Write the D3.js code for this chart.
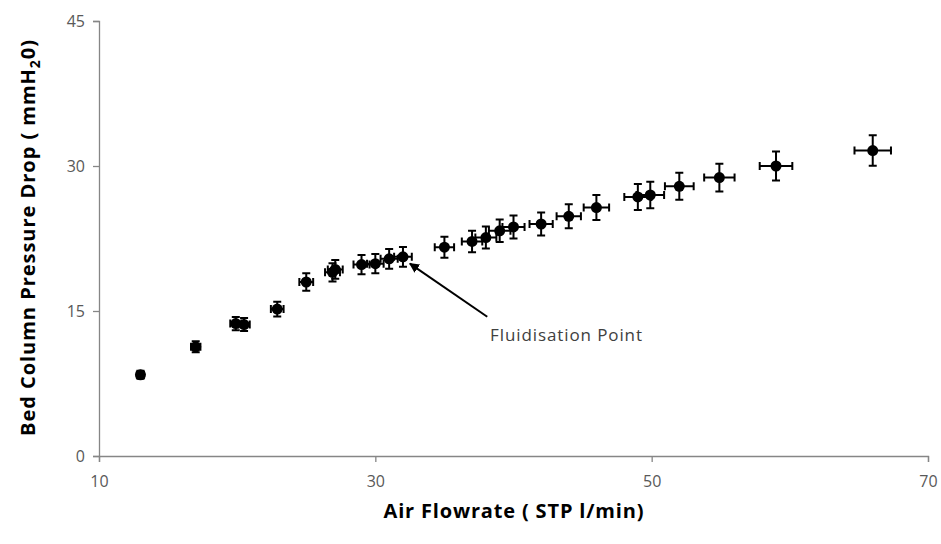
<!DOCTYPE html>
<html>
<head>
<meta charset="utf-8">
<script src="https://cdn.jsdelivr.net/npm/d3@7"></script>
<style>
  body { margin: 0; background: #fff; }
  svg { display: block; font-family: "Open Sans", Lato, sans-serif; }
</style>
</head>
<body>
<svg id="chart"></svg>
<script>
// air flowrate (STP l/min)
const flowrate = [13, 17, 19.9, 20.5, 22.9, 25, 26.9, 27.1, 29, 30, 31, 32, 35, 37, 38, 39, 40, 42, 44, 46, 49, 49.9, 52, 54.9, 59, 66];
// bed column pressure drop (mmH2O)
const pressure = [8.4, 11.3, 13.7, 13.6, 15.2, 18.0, 19.0, 19.3, 19.8, 19.9, 20.4, 20.6, 21.6, 22.2, 22.6, 23.3, 23.7, 24.0, 24.8, 25.7, 26.8, 27.0, 27.9, 28.8, 30.0, 31.6];
// error bars
const flowErr = [0.26, 0.34, 0.40, 0.41, 0.46, 0.50, 0.54, 0.54, 0.58, 0.60, 0.62, 0.64, 0.70, 0.74, 0.76, 0.78, 0.80, 0.84, 0.88, 0.92, 0.98, 1.00, 1.04, 1.10, 1.18, 1.32];
const pressErr = [0.42, 0.57, 0.69, 0.68, 0.76, 0.90, 0.95, 0.97, 0.99, 1.00, 1.02, 1.03, 1.08, 1.11, 1.13, 1.17, 1.19, 1.20, 1.24, 1.29, 1.34, 1.36, 1.40, 1.44, 1.50, 1.58];

const xTicks = [10, 30, 50, 70];
const yTicks = [0, 15, 30, 45];

// annotation: text anchor, arrow tail and tip (data units)
const noteText = 'Fluidisation Point';
const notePos = [38.3, 12.4];
const arrowFrom = [38.1, 14.4];
const arrowTo = [32.5, 19.9];

const width = 941;
const height = 544;
const margin = { top: 21, right: 13, bottom: 88, left: 99 };

const svg = d3.select('#chart').attr('width', width).attr('height', height);

const x = d3.scaleLinear().domain([10, 70]).range([margin.left, width - margin.right]);
const y = d3.scaleLinear().domain([0, 45]).range([height - margin.bottom, margin.top]);

const axisColor = '#868686';

const xAxis = svg.append('g')
  .attr('transform', `translate(0,${y(0)})`)
  .call(d3.axisBottom(x).tickValues(xTicks).tickSize(6).tickPadding(14));
const yAxis = svg.append('g')
  .attr('transform', `translate(${x(10)},0)`)
  .call(d3.axisLeft(y).tickValues(yTicks).tickSize(6).tickPadding(8));

[xAxis, yAxis].forEach(g => {
  g.selectAll('path, line').attr('stroke', axisColor).attr('stroke-width', 1.3);
  g.selectAll('text')
    .attr('fill', '#595959')
    .style('font-size', '16px')
    .style('font-family', '"Open Sans", sans-serif');
});

const data = flowrate.map((d, i) => ({
  x: d, y: pressure[i], ex: flowErr[i], ey: pressErr[i],
}));

const cap = 4;
const bars = svg.append('g').attr('stroke', '#000').attr('stroke-width', 2);

bars.selectAll('.hbar')
  .data(data)
  .enter()
  .append('path')
  .attr('fill', 'none')
  .attr('d', d => {
    const x0 = x(d.x - d.ex);
    const x1 = x(d.x + d.ex);
    const cy = y(d.y);
    return `M${x0},${cy}H${x1}M${x0},${cy - cap}V${cy + cap}M${x1},${cy - cap}V${cy + cap}`;
  });

bars.selectAll('.vbar')
  .data(data)
  .enter()
  .append('path')
  .attr('fill', 'none')
  .attr('d', d => {
    const y0 = y(d.y - d.ey);
    const y1 = y(d.y + d.ey);
    const cx = x(d.x);
    return `M${cx},${y0}V${y1}M${cx - cap},${y0}H${cx + cap}M${cx - cap},${y1}H${cx + cap}`;
  });

svg.append('g')
  .selectAll('circle')
  .data(data)
  .enter()
  .append('circle')
  .attr('cx', d => x(d.x))
  .attr('cy', d => y(d.y))
  .attr('r', 5.5)
  .attr('fill', '#000');

// annotation arrow
svg.append('defs')
  .append('marker')
  .attr('id', 'arrow')
  .attr('viewBox', '0 0 10 10')
  .attr('refX', 9)
  .attr('refY', 5)
  .attr('markerWidth', 5)
  .attr('markerHeight', 5)
  .attr('orient', 'auto')
  .append('path')
  .attr('d', 'M0,0L10,5L0,10z')
  .attr('fill', '#000');

svg.append('line')
  .attr('x1', x(arrowFrom[0]))
  .attr('y1', y(arrowFrom[1]))
  .attr('x2', x(arrowTo[0]))
  .attr('y2', y(arrowTo[1]))
  .attr('stroke', '#000')
  .attr('stroke-width', 2)
  .attr('marker-end', 'url(#arrow)');

svg.append('text')
  .attr('x', x(notePos[0]))
  .attr('y', y(notePos[1]))
  .attr('dominant-baseline', 'middle')
  .attr('fill', '#404040')
  .attr('textLength', 152)
  .style('font-size', '17px')
  .text(noteText);

// axis titles
svg.append('text')
  .attr('x', (x(10) + x(70)) / 2)
  .attr('y', 518)
  .attr('text-anchor', 'middle')
  .attr('textLength', 260)
  .style('font-size', '20px')
  .style('font-weight', 'bold')
  .attr('fill', '#000')
  .text('Air Flowrate ( STP l/min)');

const yTitle = svg.append('text')
  .attr('transform', `translate(35,238) rotate(-90)`)
  .attr('text-anchor', 'middle')
  .attr('textLength', 396)
  .style('font-size', '20px')
  .style('font-weight', 'bold')
  .attr('fill', '#000');
yTitle.append('tspan').text('Bed Column Pressure Drop ( mmH');
yTitle.append('tspan').attr('dy', 5).style('font-size', '14px').text('2');
yTitle.append('tspan').attr('dy', -5).text('0)');
</script>
</body>
</html>
